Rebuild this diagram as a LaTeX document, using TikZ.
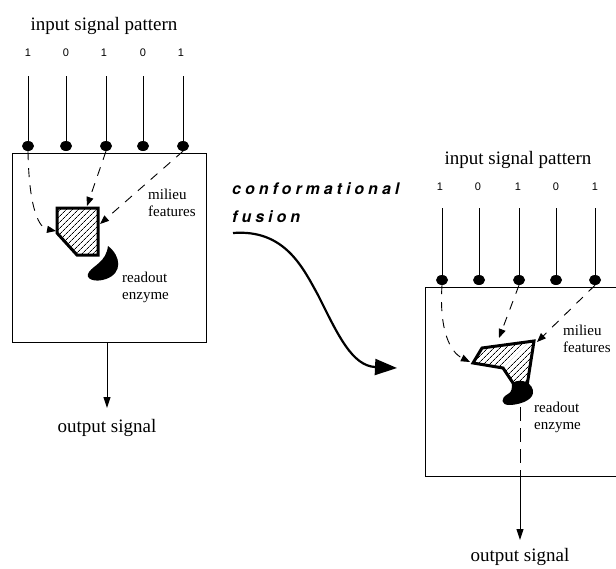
\documentclass[tikz,border=0pt]{standalone}
\usepackage{fontspec}
\setmainfont{Liberation Serif}
\newfontfamily\sansnum{Liberation Sans}
\newfontfamily\cffont[LetterSpace=25]{TeX Gyre Heros}
\usetikzlibrary{shapes.geometric,arrows.meta,patterns.meta}
\tikzset{
 dotst/.style={ellipse, fill=black, minimum width=12pt, minimum height=10pt, inner sep=0pt},
 numst/.style={font=\sansnum\fontsize{11}{12}\selectfont, inner sep=0pt},
 ttl/.style={font=\fontsize{19}{22}\selectfont, inner sep=0pt, anchor=base},
 lbl/.style={font=\fontsize{15}{17}\selectfont, inner sep=0pt, anchor=base west},
 cfst/.style={font=\cffont\bfseries\itshape\fontsize{16}{20}\selectfont, inner sep=0pt, anchor=base west},
 boxst/.style={draw, line width=1pt, inner sep=0pt, anchor=north west, minimum width=194pt, minimum height=189pt},
 sigA/.style={line width=0.9pt},
 sigB/.style={line width=0.6pt},
 darr/.style={dash pattern=on 9pt off 8pt, line width=0.9pt, -{Triangle[length=9pt,width=7pt]}},
 dline/.style={dash pattern=on 14pt off 7pt, line width=0.9pt},
 oarr/.style={line width=1pt, -{Triangle[length=11pt,width=7pt]}},
 site/.style={line width=3pt, line join=miter, pattern={Lines[angle=45,distance=4pt,line width=0.8pt]}},
 bigarr/.style={line width=2.2pt, -{Triangle[length=22pt,width=16pt]}},
}
\begin{document}
\begin{tikzpicture}[x=1pt,y=-1pt]
\useasboundingbox (0,0) rectangle (616,568);
% ---------------- left diagram ----------------
\node[ttl] (Ltitle) at (104,30) {input signal pattern};
\node[numst] (Ln1) at (28,53) {1};
\node[numst] (Ln2) at (66,53) {0};
\node[numst] (Ln3) at (104,53) {1};
\node[numst] (Ln4) at (143,53) {0};
\node[numst] (Ln5) at (181,53) {1};
\node[boxst] (Lbox) at (12,153) {};
\node[dotst] (Ld1) at (28,146) {};
\node[dotst] (Ld2) at (66,146) {};
\node[dotst] (Ld3) at (106,146) {};
\node[dotst] (Ld4) at (143,146) {};
\node[dotst] (Ld5) at (183,146) {};
\coordinate (Lt1) at (28,76);
\coordinate (Lt2) at (66,76);
\coordinate (Lt3) at (106,76);
\coordinate (Lt4) at (143,76);
\coordinate (Lt5) at (183,76);
\draw[sigA] (Lt1) -- (Ld1);
\draw[sigB] (Lt2) -- (Ld2);
\draw[sigA] (Lt3) -- (Ld3);
\draw[sigB] (Lt4) -- (Ld4);
\draw[sigA] (Lt5) -- (Ld5);
% readout enzyme
\fill (108,246) .. controls (121,256) and (123,273) .. (106,279) .. controls (95,283) and (84,279) .. (89,272) .. controls (94,265) and (106,262) .. (108,246) -- cycle;
% binding site
\draw[site] (57,208) -- (98,208) -- (98,255) -- (77,255) -- (57,233) -- cycle;
\coordinate (La1) at (56,231);
\coordinate (La3) at (87,206);
\coordinate (La5) at (100,224);
\draw[darr] (Ld1.south) .. controls (29,212) and (40,228) .. (La1);
\draw[darr] (Ld3.south) -- (La3);
\draw[darr] (Ld5.south) -- (La5);
\node[lbl] (Lmil) at (148,199) {milieu};
\node[lbl] (Lfea) at (148,216) {features};
\node[lbl] (Lrea) at (122,282) {readout};
\node[lbl] (Lenz) at (122,299) {enzyme};
\coordinate (Lo) at (107,342);
\coordinate (Loe) at (107,408);
\draw[oarr] (Lo) -- (Loe);
\node[ttl] (Lout) at (107,432) {output signal};
% ---------------- middle ----------------
\node[cfst] (cf1) at (232,194) {conformational};
\node[cfst] (cf2) at (232,222) {fusion};
\coordinate (cfs) at (233,233);
\coordinate (cfe) at (397,368);
\draw[bigarr] (cfs) .. controls (285,229) and (303,268) .. (318,295) .. controls (338,335) and (352,366) .. (cfe);
% ---------------- right diagram ----------------
\node[ttl] (Rtitle) at (518,164) {input signal pattern};
\node[numst] (Rn1) at (440,187) {1};
\node[numst] (Rn2) at (478,187) {0};
\node[numst] (Rn3) at (518,187) {1};
\node[numst] (Rn4) at (556,187) {0};
\node[numst] (Rn5) at (595,187) {1};
\node[boxst] (Rbox) at (425,287) {};
\node[dotst] (Rd1) at (442,280) {};
\node[dotst] (Rd2) at (479,280) {};
\node[dotst] (Rd3) at (519,280) {};
\node[dotst] (Rd4) at (556,280) {};
\node[dotst] (Rd5) at (595,280) {};
\coordinate (Rt1) at (442,208);
\coordinate (Rt2) at (479,208);
\coordinate (Rt3) at (519,208);
\coordinate (Rt4) at (556,208);
\coordinate (Rt5) at (595,208);
\draw[sigA] (Rt1) -- (Rd1);
\draw[sigB] (Rt2) -- (Rd2);
\draw[sigA] (Rt3) -- (Rd3);
\draw[sigB] (Rt4) -- (Rd4);
\draw[sigA] (Rt5) -- (Rd5);
% fused site + enzyme
\draw[site] (482,348) -- (534,341) -- (527,386) -- (515,386) -- (503,368) -- (473,363) -- cycle;
\fill (512,383) .. controls (522,377) and (534,384) .. (533,393) .. controls (532,401) and (518,405) .. (509,405) .. controls (501,405) and (500,398) .. (508,394) .. controls (512,392) and (512,388) .. (512,383) -- cycle;
\coordinate (Ra1) at (470,362);
\coordinate (Ra3) at (499,338);
\coordinate (Ra5) at (537,342);
\draw[darr] (Rd1.south) .. controls (439,330) and (450,352) .. (Ra1);
\draw[darr] (Rd3.south) -- (Ra3);
\draw[darr] (Rd5.south) -- (Ra5);
\node[lbl] (Rmil) at (563,335) {milieu};
\node[lbl] (Rfea) at (563,352) {features};
\node[lbl] (Rrea) at (534,412) {readout};
\node[lbl] (Renz) at (534,429) {enzyme};
\coordinate (Rs) at (520,407);
\coordinate (Ro) at (520,475);
\coordinate (Roe) at (520,540);
\draw[dline] (Rs) -- (Ro);
\draw[oarr] (Ro) -- (Roe);
\node[ttl] (Rout) at (520,561) {output signal};
\end{tikzpicture}
\end{document}
